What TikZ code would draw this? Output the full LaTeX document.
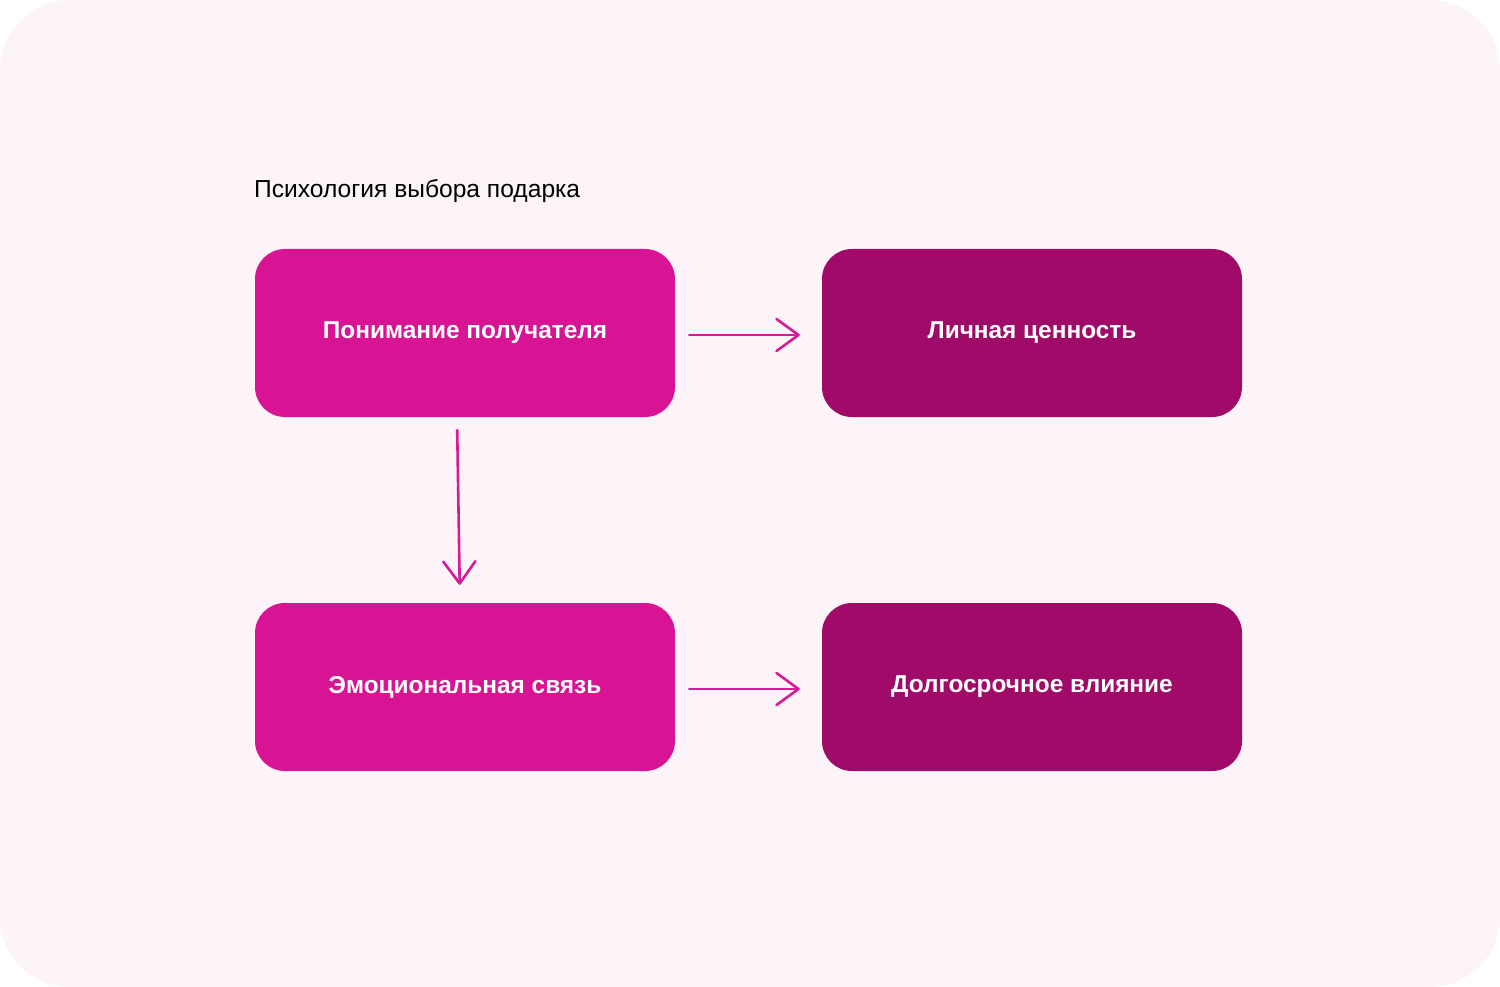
\documentclass[tikz,border=0pt]{standalone}
\usepackage{fontspec}
\setmainfont{Liberation Sans}
\usetikzlibrary{arrows.meta}
\definecolor{bgpink}{RGB}{253,244,250}
\definecolor{boxlight}{RGB}{216,20,148}
\definecolor{boxdark}{RGB}{160,10,104}
\definecolor{arrowpink}{RGB}{214,26,152}
\tikzset{
  card/.style={rounded corners=30pt, minimum width=420pt, minimum height=168pt,
    inner sep=0pt, text=white, font=\fontsize{24.4}{28}\selectfont\bfseries},
  lightcard/.style={card, fill=boxlight},
  darkcard/.style={card, fill=boxdark},
  flow/.style={draw=arrowpink, line width=2.6pt, line cap=round, line join=round,
    -{Straight Barb[length=22pt, width=32pt, line width=2.6pt, round]}},
}
\begin{document}
\begin{tikzpicture}[x=1pt,y=-1pt]
\useasboundingbox (0,0) rectangle (1500,987);
\fill[white] (0,0) rectangle (1500,987);
\fill[bgpink, rounded corners=70pt] (0,0) rectangle (1500,987);
\node[anchor=base west, inner sep=0pt, font=\fontsize{24.6}{28}\selectfont] (title) at (254,198) {Психология выбора подарка};
\node[lightcard] (b1) at (465,333) {Понимание получателя};
\node[darkcard] (b2) at (1032,333) {Личная ценность};
\node[lightcard] (b3) at (465,687) {Эмоциональная связь};
\node[darkcard] (b4) at (1032,687) {Долгосрочное влияние};
\draw[flow, shorten <=14pt, shorten >=22pt] ([yshift=-2pt]b1.east) -- ([yshift=-2pt]b2.west);
\draw[flow, shorten <=14pt, shorten >=22pt] ([yshift=-2pt]b3.east) -- ([yshift=-2pt]b4.west);
\draw[flow, shorten <=13pt, shorten >=18pt] ([xshift=-8pt]b1.south) -- ([xshift=-5pt]b3.north);
\end{tikzpicture}
\end{document}
